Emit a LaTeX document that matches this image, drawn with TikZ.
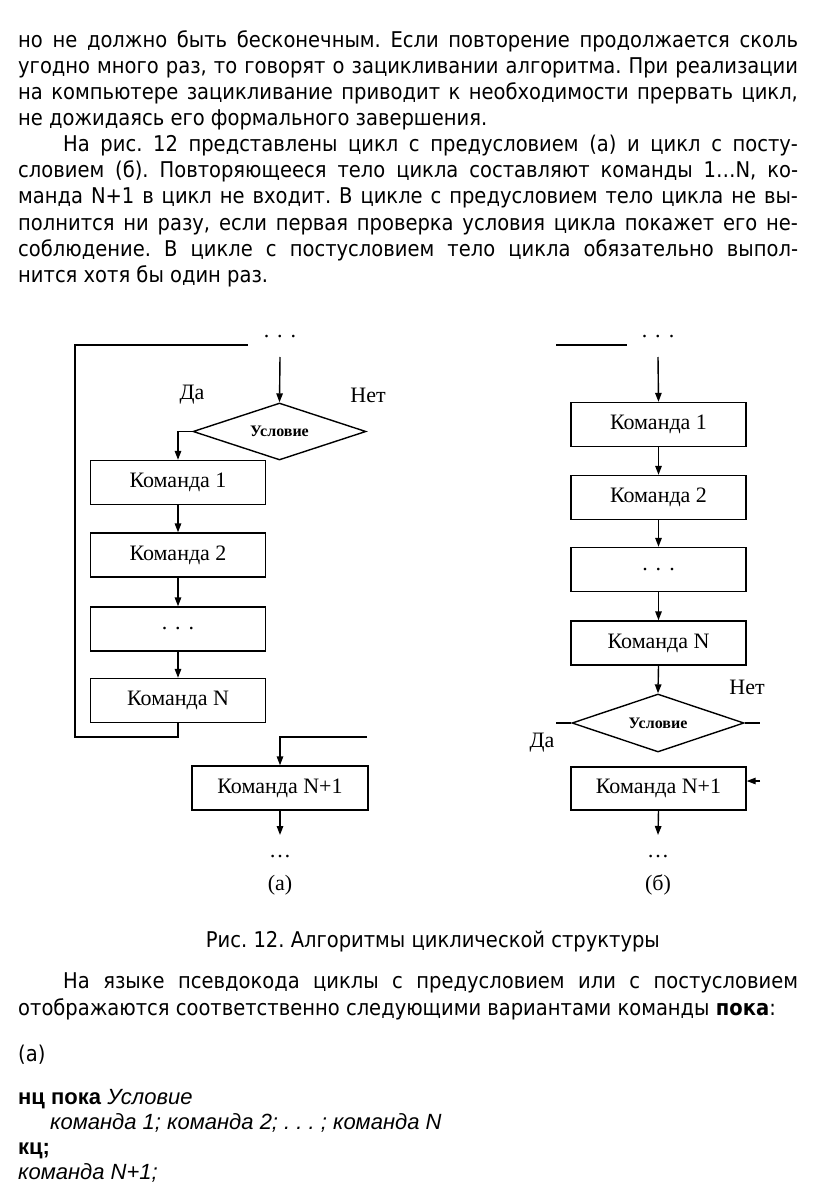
\documentclass[tikz,border=0pt]{standalone}
\usepackage{fontspec}
\setmainfont{DejaVu Sans Condensed}
\newfontfamily\tnr{Liberation Serif}
\newfontfamily\arl{Liberation Sans}
\usetikzlibrary{arrows.meta,shapes.geometric}
\frenchspacing
\begin{document}
\begin{tikzpicture}[x=1pt,y=-1pt,
  body/.style={anchor=base west,inner sep=0pt,font=\fontsize{21.7}{24}\selectfont},
  code/.style={anchor=base west,inner sep=0pt,font=\arl\fontsize{22}{24}\selectfont},
  ln/.style={line width=1.4pt},
  arr/.style={ln,-{Triangle[length=9pt,width=6.5pt]}},
  box/.style={draw,ln,rectangle,minimum width=175pt,minimum height=44pt,inner sep=0pt,font=\tnr\fontsize{22}{26}\selectfont},
  cond/.style={draw,ln,diamond,aspect=3,minimum width=173pt,minimum height=57pt,inner sep=0pt,font=\tnr\bfseries\fontsize{16}{18}\selectfont},
  lbl/.style={inner sep=0pt,font=\tnr\fontsize{22}{26}\selectfont}]
\useasboundingbox[fill=white] (0,0) rectangle (816,1190);
% ---- body text ----
\node[body] (p1) at (18,48) {\makebox[780pt][s]{но не должно быть бесконечным. Если повторение продолжается сколь}};
\node[body] (p2) at (18,74) {\makebox[780pt][s]{угодно много раз, то говорят о зацикливании алгоритма. При реализации}};
\node[body] (p3) at (18,100) {\makebox[780pt][s]{на компьютере зацикливание приводит к необходимости прервать цикл,}};
\node[body] (p4) at (18,126) {не дожидаясь его формального завершения.};
\node[body] (p5) at (63,152) {\makebox[735pt][s]{На рис. 12 представлены цикл с предусловием (а) и цикл с посту-}};
\node[body] (p6) at (18,178) {\makebox[780pt][s]{словием (б). Повторяющееся тело цикла составляют команды 1…N, ко-}};
\node[body] (p7) at (18,204) {\makebox[780pt][s]{манда N+1 в цикл не входит. В цикле с предусловием тело цикла не вы-}};
\node[body] (p8) at (18,230) {\makebox[780pt][s]{полнится ни разу, если первая проверка условия цикла покажет его не-}};
\node[body] (p9) at (18,256) {\makebox[780pt][s]{соблюдение. В цикле с постусловием тело цикла обязательно выпол-}};
\node[body] (p10) at (18,282) {нится хотя бы один раз.};
\node[body,anchor=base] (cap) at (433,947) {Рис. 12. Алгоритмы циклической структуры};
\node[body] (q1) at (63,988) {\makebox[735pt][s]{На языке псевдокода циклы с предусловием или с постусловием}};
\node[body] (q2) at (18,1015) {отображаются соответственно следующими вариантами команды \textbf{пока}:};
\node[body] (q3) at (18,1061) {(а)};
\node[code] (q4) at (18,1104) {\textbf{нц пока} \textit{Условие}};
\node[code] (q5) at (50,1129) {\textit{команда 1; команда 2; . . . ; команда N}};
\node[code] (q6) at (18,1154) {\textbf{кц;}};
\node[code] (q7) at (18,1179) {\textit{команда N+1;}};
% ---- diagram (a) ----
\node[lbl] (dotsA) at (280,337) {.\hspace{8pt}.\hspace{8pt}.};
\coordinate (topA) at (280,357);
\coordinate (loopR) at (248,345);
\coordinate (loopL) at (75,345);
\node[cond] (condA) at (279.5,431.5) {Условие};
\node[lbl] (daA) at (192,395) {Да};
\node[lbl] (netA) at (368,395) {Нет};
\node[box] (A1) at (178,482.5) {Команда 1};
\node[box] (A2) at (178,555) {Команда 2};
\node[box] (A3) at (178,629) {.\hspace{8pt}.\hspace{8pt}.};
\node[box] (AN) at (178,700.5) {Команда N};
\coordinate (loopB) at (75,737);
\coordinate (exitA) at (367,737);
\node[box,minimum width=176pt] (AN1) at (280,788) {Команда N+1};
\coordinate (botA) at (280,835);
\node[lbl] (ellA) at (280,857) {…};
\node[lbl] (labA) at (280,885) {(а)};
\draw[arr] (topA) -- (condA.north);
\draw[arr] (condA.west) -| (A1.north);
\draw[arr] (A1) -- (A2);
\draw[arr] (A2) -- (A3);
\draw[arr] (A3) -- (AN);
\draw[ln] (AN.south) |- (loopB) -- (loopL) -- (loopR);
\draw[arr] (exitA) -| (AN1.north);
\draw[arr] (AN1.south) -- (botA);
% ---- diagram (b) ----
\coordinate (lineBL) at (556,345);
\coordinate (lineBR) at (627,345);
\node[lbl] (dotsB) at (658,337) {.\hspace{8pt}.\hspace{8pt}.};
\coordinate (topB) at (658,357);
\node[box] (B1) at (658.5,424.5) {Команда 1};
\node[box] (B2) at (658.5,497.5) {Команда 2};
\node[box] (B3) at (658.5,569.5) {.\hspace{8pt}.\hspace{8pt}.};
\node[box] (BN) at (658.5,643) {Команда N};
\node[cond,minimum width=172pt,minimum height=58pt] (condB) at (658,723) {Условие};
\coordinate (yesB) at (556,723);
\coordinate (noB) at (760,723);
\node[lbl] (netB) at (747,687) {Нет};
\node[lbl] (daB) at (542,743) {Да};
\node[box,minimum height=43pt] (BN1) at (658.5,788.5) {Команда N+1};
\coordinate (inB) at (760,781);
\coordinate (botB) at (658,835);
\node[lbl] (ellB) at (658,857) {…};
\node[lbl] (labB) at (658,885) {(б)};
\draw[ln] (lineBL) -- (lineBR);
\draw[arr] (topB) -- (B1.north);
\draw[arr] (B1) -- (B2);
\draw[arr] (B2) -- (B3);
\draw[arr] (B3) -- (BN);
\draw[arr] (BN.south) -- (condB.north);
\draw[ln] (condB.west) -- (yesB);
\draw[ln] (condB.east) -- (noB);
\draw[arr] (inB) -- (inB -| BN1.east);
\draw[arr] (BN1.south) -- (botB);
\end{tikzpicture}
\end{document}
